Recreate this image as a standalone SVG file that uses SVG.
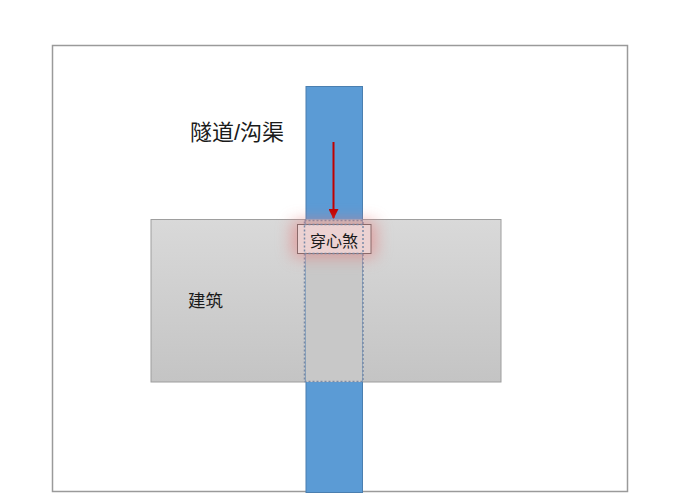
<svg xmlns="http://www.w3.org/2000/svg" width="685" height="500" viewBox="0 0 685 500">
<defs>
<linearGradient id="bgrad" x1="0" y1="0" x2="0" y2="1">
<stop offset="0" stop-color="#d9d9d9"/>
<stop offset="1" stop-color="#c4c4c4"/>
</linearGradient>
<filter id="glow" x="-80%" y="-150%" width="260%" height="400%">
<feGaussianBlur stdDeviation="8"/>
</filter>
<marker id="ah" markerWidth="10" markerHeight="10" refX="9" refY="5" orient="auto" markerUnits="userSpaceOnUse">
<path d="M0,0 L10,5 L0,10 Z" fill="#c00000"/>
</marker>
</defs>
<style>
.lbl{font-family:"Liberation Sans","Noto Sans CJK SC",sans-serif;fill:#1a1a1a}
</style>
<rect x="0" y="0" width="685" height="500" fill="#ffffff"/>
<rect x="52.5" y="45.5" width="575" height="446" fill="#ffffff" stroke="#9a9a9a" stroke-width="1.5"/>
<g id="building">
<rect x="151" y="219.5" width="350" height="162.5" fill="url(#bgrad)" stroke="#9e9e9e" stroke-width="1"/>
<text class="lbl" x="188" y="307" font-size="17.5">建筑</text>
</g>
<g id="tunnel">
<rect x="306" y="86.5" width="56.5" height="406" fill="#5b9bd5" stroke="#4a7fb0" stroke-width="1"/>
<rect x="306" y="219.5" width="56.5" height="162.5" fill="#c8c8c8"/>
<rect x="304.5" y="220.5" width="58.5" height="161" fill="none" stroke="#7a8aa6" stroke-width="1.5" stroke-dasharray="2,2"/>
<text class="lbl" x="190" y="140" font-size="22">隧道/沟渠</text>
</g>
<g id="connectors">
<line x1="333.5" y1="142" x2="333.5" y2="218" stroke="#c00000" stroke-width="2" marker-end="url(#ah)"/>
</g>
<g id="chuanxinsha">
<rect x="292" y="221" width="84" height="36" fill="#e67a7a" opacity="0.6" filter="url(#glow)"/>
<rect x="297.5" y="224.5" width="73.5" height="29" fill="#ecd2d2" stroke="#8a6a6a" stroke-width="1"/>
<rect x="304.5" y="224.5" width="58.5" height="29" fill="none" stroke="#7a8aa6" stroke-width="1.5" stroke-dasharray="2,2"/>
<text class="lbl" x="334" y="246.5" font-size="16" text-anchor="middle">穿心煞</text>
</g>
</svg>
